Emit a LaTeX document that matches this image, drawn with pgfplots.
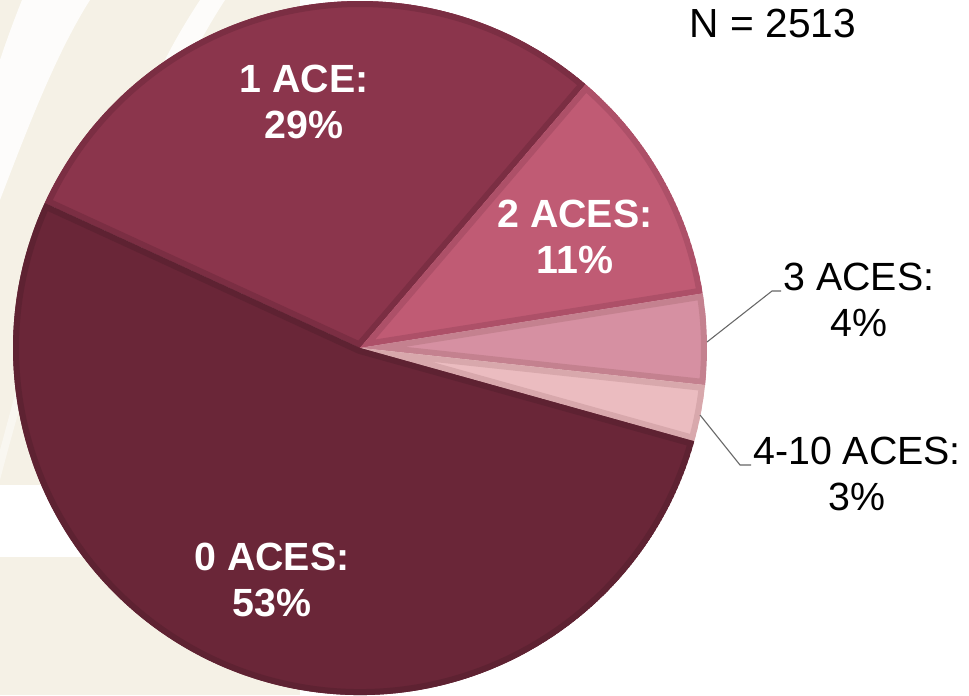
\documentclass[border=0pt]{standalone}
\usepackage{pgfplots}
\usepackage{pgfplotstable}
\pgfplotsset{compat=1.18}
\usepackage{fontspec}
\setmainfont{Liberation Sans}
\definecolor{cream}{HTML}{F5F1E6}
\definecolor{slice0}{HTML}{8B354C}
\definecolor{slice0b}{HTML}{7B2E43}
\definecolor{slice1}{HTML}{C05B74}
\definecolor{slice1b}{HTML}{AD5068}
\definecolor{slice2}{HTML}{D690A2}
\definecolor{slice2b}{HTML}{C4818F}
\definecolor{slice3}{HTML}{EBBCC0}
\definecolor{slice3b}{HTML}{D8A8AC}
\definecolor{slice4}{HTML}{6A2638}
\definecolor{slice4b}{HTML}{5E2232}
\pgfplotstableread{
name value
one 739
two 282
three 106
four 66
zero 1320
}\acetable
\newcommand\R{260.25pt}
\begin{document}
\begin{tikzpicture}
\begin{axis}[
  width=726.75pt, height=521.25pt, scale only axis,
  xmin=0, xmax=969, ymin=0, ymax=695,
  hide axis, clip=false,
]
% background (this rectangle fixes the picture's bounding box)
\fill[white] (axis cs:0,0) rectangle (axis cs:969,695);
\begin{scope}[overlay]
\fill[cream] (axis cs:0,0) rectangle (axis cs:300,695);
\fill[white] (axis cs:0,138) rectangle (axis cs:300,210);
\fill[white, opacity=0.85] (axis cs:0,495) .. controls (axis cs:25,560) and (axis cs:55,640) .. (axis cs:90,695)
  -- (axis cs:22,695) .. controls (axis cs:12,670) and (axis cs:5,650) .. (axis cs:0,635) -- cycle;
\fill[white, opacity=0.8] (axis cs:160,625) .. controls (axis cs:172,650) and (axis cs:185,672) .. (axis cs:200,695)
  -- (axis cs:225,695) .. controls (axis cs:210,672) and (axis cs:198,650) .. (axis cs:185,625) -- cycle;
\fill[white, opacity=0.45] (axis cs:0,245) .. controls (axis cs:15,300) and (axis cs:30,360) .. (axis cs:50,410)
  -- (axis cs:60,405) .. controls (axis cs:40,355) and (axis cs:22,300) .. (axis cs:0,215) -- cycle;
\end{scope}
% pie
\pgfplotsextra{
  \xdef\curang{155.3}
  \pgfplotstableforeachcolumnelement{value}\of\acetable\as\val{%
    \pgfmathsetmacro\sweep{\val/2513*360}%
    \pgfmathsetmacro\endang{\curang-\sweep}%
    \edef\fc{slice\pgfplotstablerow}%
    \edef\bc{slice\pgfplotstablerow b}%
    \begin{scope}[overlay]
      \clip (axis cs:360,347) -- ++(\curang:\R) arc[start angle=\curang, end angle=\endang, radius=\R] -- cycle;
      \fill[\fc] (axis cs:360,347) -- ++(\curang:\R) arc[start angle=\curang, end angle=\endang, radius=\R] -- cycle;
      \draw[\bc, line width=9pt, line join=round] (axis cs:360,347) -- ++(\curang:\R) arc[start angle=\curang, end angle=\endang, radius=\R] -- cycle;
    \end{scope}
    \xdef\curang{\endang}%
  }
}
% leader lines
\draw[black!60, line width=0.8pt] (axis cs:707,353) -- (axis cs:772,404) -- (axis cs:781,404);
\draw[black!60, line width=0.8pt] (axis cs:700,280) -- (axis cs:740,230) -- (axis cs:751,230);
% labels
\tikzset{lab/.style={align=center, font=\fontsize{29.5pt}{34.5pt}\selectfont, inner sep=0pt}}
\node[lab, text=white, font=\fontsize{29.5pt}{34.5pt}\selectfont\bfseries] at (axis cs:304,593) {1 ACE:\\29\%};
\node[lab, text=white, font=\fontsize{29.5pt}{34.5pt}\selectfont\bfseries] at (axis cs:575,458) {2 ACES:\\11\%};
\node[lab, text=white, font=\fontsize{29.5pt}{34.5pt}\selectfont\bfseries] at (axis cs:272,115) {0 ACES:\\53\%};
\node[lab] at (axis cs:859,395) {3 ACES:\\4\%};
\node[lab] at (axis cs:857,221) {4-10 ACES:\\3\%};
\node[lab, font=\fontsize{30.5pt}{36pt}\selectfont] at (axis cs:773,671) {N = 2513};
\end{axis}
\end{tikzpicture}
\end{document}
